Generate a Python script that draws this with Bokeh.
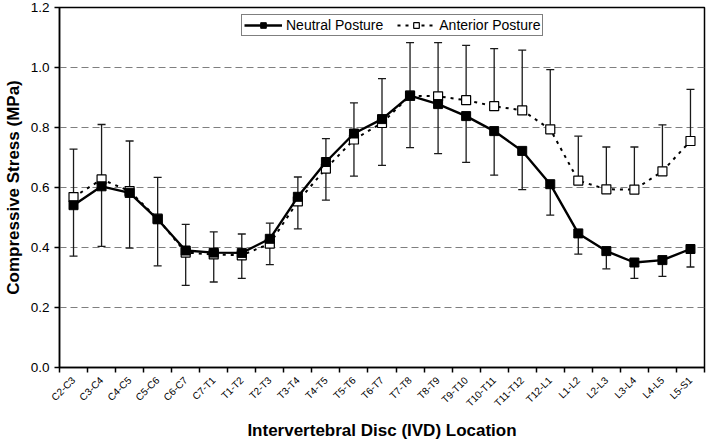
import math
from bokeh.plotting import figure
from bokeh.models import (Range1d, FixedTicker, Whisker, ColumnDataSource, Legend,
                          LegendItem, TeeHead, CustomJSTickFormatter)
from bokeh.embed import file_html
from bokeh.resources import INLINE

levels = ["C2-C3", "C3-C4", "C4-C5", "C5-C6", "C6-C7", "C7-T1", "T1-T2", "T2-T3",
          "T3-T4", "T4-T5", "T5-T6", "T6-T7", "T7-T8", "T8-T9", "T9-T10", "T10-T11",
          "T11-T12", "T12-L1", "L1-L2", "L2-L3", "L3-L4", "L4-L5", "L5-S1"]
neutral = [0.541, 0.604, 0.582, 0.494, 0.390, 0.383, 0.382, 0.429, 0.569, 0.685,
           0.780, 0.828, 0.906, 0.878, 0.838, 0.788, 0.722, 0.611, 0.447, 0.388,
           0.350, 0.358, 0.395]
anterior = [0.568, 0.627, 0.588, 0.496, 0.383, 0.377, 0.374, 0.413, 0.554, 0.663,
            0.760, 0.815, 0.906, 0.904, 0.891, 0.871, 0.857, 0.794, 0.623, 0.594,
            0.593, 0.654, 0.755]
anterior_upper = [0.728, 0.810, 0.755, 0.634, 0.477, 0.452, 0.445, 0.481, 0.635, 0.763,
                  0.882, 0.963, 1.083, 1.083, 1.074, 1.063, 1.058, 0.993, 0.771, 0.735,
                  0.735, 0.809, 0.927]
neutral_lower = [0.371, 0.404, 0.398, 0.339, 0.274, 0.285, 0.297, 0.343, 0.462, 0.558,
                 0.638, 0.674, 0.733, 0.713, 0.684, 0.641, 0.593, 0.508, 0.378, 0.329,
                 0.297, 0.304, 0.335]
y_ticks = [0.0, 0.2, 0.4, 0.6, 0.8, 1.0, 1.2]

xs = [i + 0.5 for i in range(len(levels))]
src = ColumnDataSource(dict(x=xs, neutral=neutral, anterior=anterior,
                            aup=anterior_upper, nlo=neutral_lower))

FONT = "Liberation Sans"

p = figure(width=712, height=448, output_backend="svg", toolbar_location=None,
           x_range=Range1d(0, len(levels)), y_range=Range1d(0, 1.2),
           min_border_left=57, min_border_right=8, min_border_top=7, min_border_bottom=81)
p.background_fill_color = "white"
p.border_fill_color = "white"
p.outline_line_color = "black"
p.outline_line_width = 1.5

# error bars
wa = Whisker(source=src, base="x", lower="anterior", upper="aup", dimension="height",
             line_color="#1a1a1a", line_width=1.3,
             upper_head=TeeHead(size=8, line_color="#1a1a1a", line_width=1.3),
             lower_head=None)
wn = Whisker(source=src, base="x", lower="nlo", upper="neutral", dimension="height",
             line_color="#1a1a1a", line_width=1.3,
             lower_head=TeeHead(size=8, line_color="#1a1a1a", line_width=1.3),
             upper_head=None)
p.add_layout(wa)
p.add_layout(wn)

la = p.line("x", "anterior", source=src, line_color="black", line_width=2, line_dash="3 5")
ma = p.scatter("x", "anterior", source=src, marker="square", size=9,
               fill_color="white", line_color="black", line_width=1.2)
ln = p.line("x", "neutral", source=src, line_color="black", line_width=2.4)
mn = p.scatter("x", "neutral", source=src, marker="square", size=9,
               fill_color="black", line_color="black")

# axes
xa = p.xaxis[0]
xa.ticker = FixedTicker(ticks=xs, minor_ticks=list(range(len(levels) + 1)))
xa.formatter = CustomJSTickFormatter(args=dict(labels=levels),
                                     code="return labels[Math.floor(tick)];")
xa.major_tick_in = 0
xa.major_tick_out = 0
xa.minor_tick_in = 0
xa.minor_tick_out = 5
xa.minor_tick_line_color = "black"
xa.minor_tick_line_width = 1.5
xa.major_label_orientation = math.pi / 4
xa.major_label_text_font = FONT
xa.major_label_text_font_size = "10px"
xa.major_label_text_color = "black"
xa.major_label_standoff = 6
xa.axis_line_color = "black"
xa.axis_line_width = 1.5
xa.axis_label = "Intervertebral Disc (IVD) Location"
xa.axis_label_text_font = FONT
xa.axis_label_text_font_style = "bold"
xa.axis_label_text_font_size = "17px"
xa.axis_label_text_color = "black"
xa.axis_label_standoff = 6

ya = p.yaxis[0]
ya.ticker = FixedTicker(ticks=y_ticks, minor_ticks=[])
ya.formatter = CustomJSTickFormatter(code="return tick.toFixed(1);")
ya.major_tick_in = 0
ya.major_tick_out = 5
ya.major_tick_line_width = 1.5
ya.major_label_text_font = FONT
ya.major_label_text_font_size = "13.5px"
ya.major_label_text_color = "black"
ya.major_label_standoff = 5
ya.axis_line_color = "black"
ya.axis_line_width = 1.5
ya.axis_label = "Compressive Stress (MPa)"
ya.axis_label_text_font = FONT
ya.axis_label_text_font_style = "bold"
ya.axis_label_text_font_size = "17px"
ya.axis_label_text_color = "black"
ya.axis_label_standoff = 5

p.xgrid.visible = False
p.ygrid.ticker = FixedTicker(ticks=y_ticks)
p.ygrid.grid_line_color = "#7f7f7f"
p.ygrid.grid_line_dash = "7 4"
p.ygrid.grid_line_width = 1

legend = Legend(items=[LegendItem(label="Neutral Posture", renderers=[ln, mn]),
                       LegendItem(label="Anterior Posture", renderers=[la, ma])],
                orientation="horizontal", location=(182, 331))
legend.label_text_font = FONT
legend.label_text_font_size = "14px"
legend.label_text_color = "black"
legend.border_line_color = "black"
legend.border_line_width = 1.2
legend.background_fill_alpha = 1
legend.glyph_width = 38
legend.glyph_height = 14
legend.label_standoff = 4
legend.spacing = 14
legend.padding = 2
legend.margin = 0
legend.label_height = 14
p.add_layout(legend, "center")

open("out.html", "w").write(file_html(p, INLINE))
